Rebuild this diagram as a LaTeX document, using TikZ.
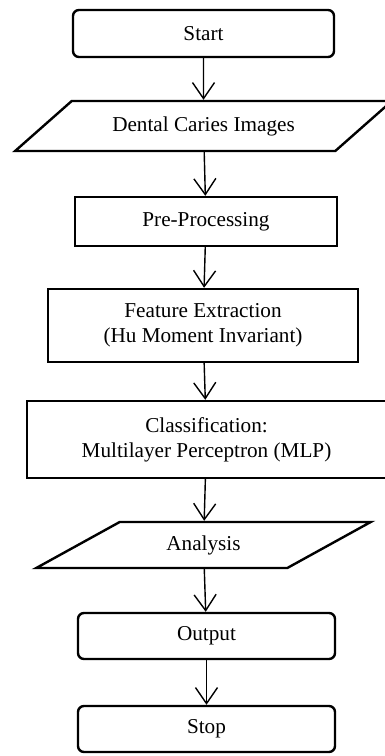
\documentclass[tikz,border=0pt]{standalone}
\usepackage{fontspec}
\setmainfont{Liberation Serif}
\usetikzlibrary{shapes.geometric,arrows.meta}
\tikzset{
  box/.style={draw, line width=1.2pt, align=center, inner sep=2pt,
    font=\fontsize{10.6}{12.5}\selectfont},
  term/.style={box, rounded corners=3pt},
  io/.style={box, trapezium, trapezium left angle=33.7, trapezium right angle=146.3,
    trapezium stretches=true},
  flow/.style={->, line width=0.7pt}
}
\begin{document}
\begin{tikzpicture}[x=0.5pt,y=-0.5pt, >={Straight Barb[length=8pt,width=11pt]}]
\useasboundingbox (0,0) rectangle (385,756);
\node[term, minimum width=130.5pt, minimum height=23.5pt] (start) at (203.5,33.5) {Start};
\node[io, minimum width=188.5pt, minimum height=25pt] (dental) at (203.5,126) {Dental Caries Images};
\node[box, minimum width=131pt, minimum height=24.5pt] (pre) at (206,221.5) {Pre-Processing};
\node[box, minimum width=155pt, minimum height=36.5pt] (feat) at (203,325.5) {Feature Extraction\\(Hu Moment Invariant)};
\node[box, minimum width=179.5pt, minimum height=38.5pt] (cls) at (206.5,439.5) {Classification:\\Multilayer Perceptron (MLP)};
\node[io, minimum width=168.5pt, minimum height=23pt] (ana) at (203.5,545) {Analysis};
\node[term, minimum width=128.5pt, minimum height=23pt] (out) at (206.5,636) {Output};
\node[term, minimum width=128.5pt, minimum height=23pt] (stop) at (206.5,729) {Stop};
\draw[flow] (start) -- (dental);
\draw[flow] (dental) -- (pre);
\draw[flow] (pre) -- (feat);
\draw[flow] (feat) -- (cls);
\draw[flow] (cls) -- (ana);
\draw[flow] (ana) -- (out);
\draw[flow] (out) -- (stop);
\end{tikzpicture}
\end{document}
